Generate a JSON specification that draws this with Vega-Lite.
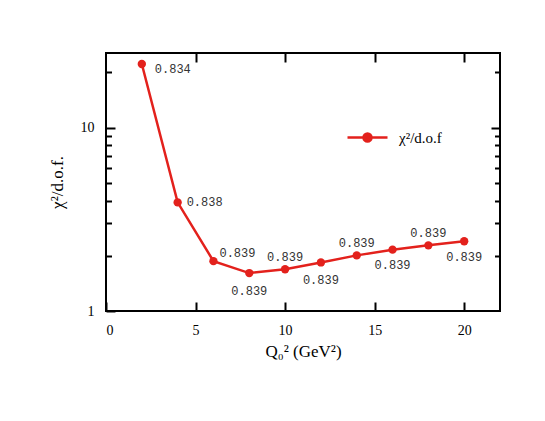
{
  "$schema": "https://vega.github.io/schema/vega-lite/v6.json",
  "width": 394,
  "height": 258,
  "autosize": "none",
  "padding": {"left": 106, "top": 53, "right": 45, "bottom": 110},
  "background": "white",
  "config": {
    "view": {"stroke": "black", "strokeWidth": 2},
    "axis": {"domain": false, "grid": false, "tickColor": "black", "tickWidth": 2, "labelFont": "Liberation Serif", "labelFontSize": 14, "labelColor": "black", "titleFont": "Liberation Serif", "titleFontSize": 17, "titleFontWeight": "normal", "titleColor": "black"}
  },
  "data": {
    "values": [
      {"q2": 2, "chi2": 22.2, "label": "0.834", "series": "χ²/d.o.f"},
      {"q2": 4, "chi2": 3.91, "label": "0.838", "series": "χ²/d.o.f"},
      {"q2": 6, "chi2": 1.87, "label": "0.839", "series": "χ²/d.o.f"},
      {"q2": 8, "chi2": 1.61, "label": "0.839", "series": "χ²/d.o.f"},
      {"q2": 10, "chi2": 1.69, "label": "0.839", "series": "χ²/d.o.f"},
      {"q2": 12, "chi2": 1.84, "label": "0.839", "series": "χ²/d.o.f"},
      {"q2": 14, "chi2": 2.01, "label": "0.839", "series": "χ²/d.o.f"},
      {"q2": 16, "chi2": 2.16, "label": "0.839", "series": "χ²/d.o.f"},
      {"q2": 18, "chi2": 2.28, "label": "0.839", "series": "χ²/d.o.f"},
      {"q2": 20, "chi2": 2.40, "label": "0.839", "series": "χ²/d.o.f"}
    ]
  },
  "layer": [
    {
      "mark": {"type": "line", "strokeWidth": 2.5},
      "encoding": {
        "x": {"field": "q2", "type": "quantitative", "scale": {"domain": [0, 22], "nice": false, "zero": false},
              "axis": {"orient": "bottom", "values": [0, 5, 10, 15, 20], "tickSize": -9, "labelPadding": 21, "title": "Q₀² (GeV²)", "titlePadding": 6}},
        "y": {"field": "chi2", "type": "quantitative", "scale": {"type": "log", "domain": [1, 25.5], "nice": false},
              "axis": {"orient": "left", "values": [1, 10], "tickSize": -9, "labelPadding": 21, "title": "χ²/d.o.f.", "titlePadding": 14}},
        "color": {"field": "series", "type": "nominal", "scale": {"range": ["#e3211c"]},
                  "legend": {"title": null, "orient": "none", "legendX": 240, "legendY": 63, "padding": 0,
                             "symbolType": "M-1,0H1M0.2,0A0.2,0.2,0,1,1,-0.2,0A0.2,0.2,0,1,1,0.2,0",
                             "symbolSize": 1600, "symbolStrokeWidth": 2.5, "symbolFillColor": "#e3211c", "symbolStrokeColor": "#e3211c",
                             "labelFont": "Liberation Serif", "labelFontSize": 15, "labelColor": "black", "labelOffset": 10}}
      }
    },
    {
      "mark": {"type": "point", "filled": true, "size": 70, "opacity": 1},
      "encoding": {
        "x": {"field": "q2", "type": "quantitative", "axis": {"orient": "top", "values": [5, 10, 15, 20], "tickSize": -9, "labels": false, "title": null}},
        "y": {"field": "chi2", "type": "quantitative", "axis": {"orient": "right", "values": [10], "tickSize": -9, "labels": false, "title": null}},
        "color": {"field": "series", "type": "nominal"}
      }
    },
    {
      "mark": {"type": "point", "opacity": 0},
      "encoding": {
        "x": {"field": "q2", "type": "quantitative", "axis": null},
        "y": {"field": "chi2", "type": "quantitative", "axis": {"orient": "left", "values": [2, 3, 4, 5, 6, 7, 8, 9, 20], "tickSize": -5.5, "labels": false, "title": null}}
      }
    },
    {
      "mark": {"type": "point", "opacity": 0},
      "encoding": {
        "x": {"field": "q2", "type": "quantitative", "axis": null},
        "y": {"field": "chi2", "type": "quantitative", "axis": {"orient": "right", "values": [2, 3, 4, 5, 6, 7, 8, 9, 20], "tickSize": -5.5, "labels": false, "title": null}}
      }
    },
    {
      "transform": [{"filter": "datum.q2 == 2"}],
      "mark": {"type": "text", "font": "Liberation Mono", "fontSize": 12, "color": "#333333", "align": "left", "baseline": "middle", "dx": 13, "dy": 5},
      "encoding": {"x": {"field": "q2", "type": "quantitative", "axis": null}, "y": {"field": "chi2", "type": "quantitative", "axis": null}, "text": {"field": "label"}}
    },
    {
      "transform": [{"filter": "datum.q2 == 4"}],
      "mark": {"type": "text", "font": "Liberation Mono", "fontSize": 12, "color": "#333333", "align": "left", "baseline": "middle", "dx": 9, "dy": 0},
      "encoding": {"x": {"field": "q2", "type": "quantitative", "axis": null}, "y": {"field": "chi2", "type": "quantitative", "axis": null}, "text": {"field": "label"}}
    },
    {
      "transform": [{"filter": "datum.q2 == 6"}],
      "mark": {"type": "text", "font": "Liberation Mono", "fontSize": 12, "color": "#333333", "align": "left", "baseline": "middle", "dx": 6, "dy": -8},
      "encoding": {"x": {"field": "q2", "type": "quantitative", "axis": null}, "y": {"field": "chi2", "type": "quantitative", "axis": null}, "text": {"field": "label"}}
    },
    {
      "transform": [{"filter": "datum.q2 == 8 || datum.q2 == 12"}],
      "mark": {"type": "text", "font": "Liberation Mono", "fontSize": 12, "color": "#333333", "align": "center", "baseline": "middle", "dy": 17.5},
      "encoding": {"x": {"field": "q2", "type": "quantitative", "axis": null}, "y": {"field": "chi2", "type": "quantitative", "axis": null}, "text": {"field": "label"}}
    },
    {
      "transform": [{"filter": "datum.q2 == 16 || datum.q2 == 20"}],
      "mark": {"type": "text", "font": "Liberation Mono", "fontSize": 12, "color": "#333333", "align": "center", "baseline": "middle", "dy": 15.5},
      "encoding": {"x": {"field": "q2", "type": "quantitative", "axis": null}, "y": {"field": "chi2", "type": "quantitative", "axis": null}, "text": {"field": "label"}}
    },
    {
      "transform": [{"filter": "datum.q2 == 10 || datum.q2 == 14 || datum.q2 == 18"}],
      "mark": {"type": "text", "font": "Liberation Mono", "fontSize": 12, "color": "#333333", "align": "center", "baseline": "middle", "dy": -12.5},
      "encoding": {"x": {"field": "q2", "type": "quantitative", "axis": null}, "y": {"field": "chi2", "type": "quantitative", "axis": null}, "text": {"field": "label"}}
    }
  ],
  "resolve": {"axis": {"x": "independent", "y": "independent"}}
}
